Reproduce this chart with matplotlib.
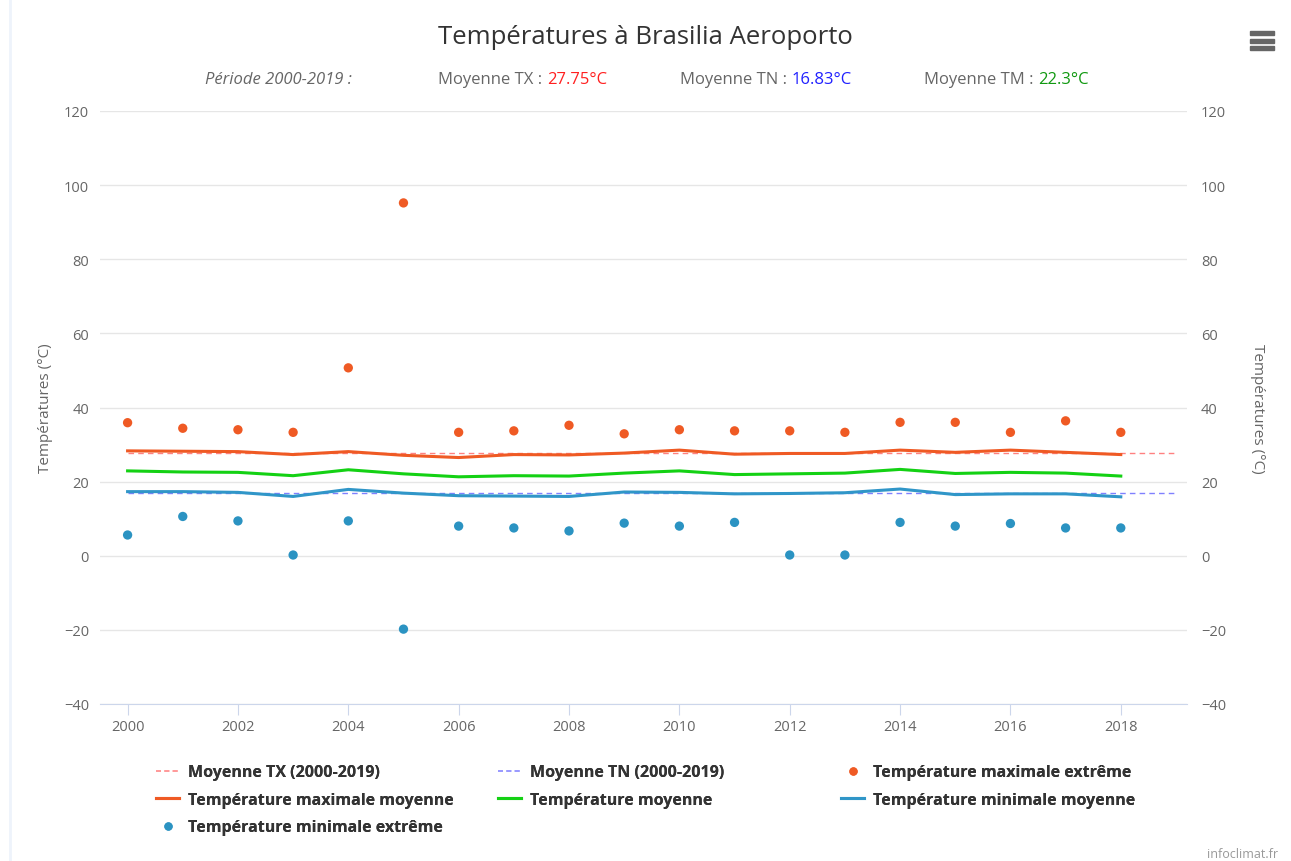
import matplotlib.pyplot as plt
from matplotlib.lines import Line2D
from matplotlib.patches import Rectangle

plt.rcParams['font.family'] = ['Open Sans', 'DejaVu Sans']

years = list(range(2000, 2019))
tx_extreme = [35.9, 34.4, 34.0, 33.3, 50.7, 95.2, 33.3, 33.7, 35.2, 32.9,
              34.0, 33.7, 33.7, 33.3, 36.0, 36.0, 33.3, 36.4, 33.3]
tn_extreme = [5.6, 10.6, 9.4, 0.2, 9.4, -19.8, 8.0, 7.5, 6.7, 8.8,
              8.0, 9.0, 0.2, 0.2, 9.0, 8.0, 8.7, 7.5, 7.5]
tx_mean = [28.3, 28.2, 28.1, 27.3, 28.1, 27.1, 26.5, 27.3, 27.2, 27.7,
           28.5, 27.4, 27.6, 27.6, 28.5, 27.9, 28.5, 27.9, 27.3]
tm_mean = [22.9, 22.6, 22.5, 21.6, 23.2, 22.1, 21.3, 21.6, 21.5, 22.3,
           22.9, 21.9, 22.1, 22.3, 23.3, 22.2, 22.5, 22.3, 21.5]
tn_mean = [17.3, 17.3, 17.1, 16.0, 17.9, 16.9, 16.2, 16.1, 16.0, 17.2,
           17.1, 16.7, 16.8, 17.0, 18.0, 16.5, 16.7, 16.7, 15.9]
period = [2000, 2019]
moy_tx = 27.75
moy_tn = 16.83
moy_tm = 22.3

orange = '#ef5a24'
green = '#14d114'
blue_line = '#3096c8'
blue_dot = '#2b93c2'
grey = '#666666'

fig = plt.figure(figsize=(12.91, 8.62), dpi=100)
ax = fig.add_axes([100 / 1291, 1 - 705 / 862, 1087 / 1291, 593 / 862])

# mean lines over the whole period
ax.plot(period, [moy_tx, moy_tx], color='#ff8080', lw=1, ls=(0, (4, 3)), zorder=2)
ax.plot(period, [moy_tn, moy_tn], color='#8080ff', lw=1, ls=(0, (4, 3)), zorder=2)
ax.plot(years, tx_mean, color=orange, lw=2.2, zorder=3)
ax.plot(years, tm_mean, color=green, lw=2.2, zorder=3)
ax.plot(years, tn_mean, color=blue_line, lw=2.2, zorder=3)
ax.scatter(years, tx_extreme, color=orange, s=45, zorder=4, edgecolors='none')
ax.scatter(years, tn_extreme, color=blue_dot, s=45, zorder=4, edgecolors='none')

ax.set_xlim(1999.5, 2019.2)
ax.set_ylim(-40, 120)
ax.set_yticks(range(-40, 121, 20))
ax.set_xticks(range(2000, 2019, 2))
ax.grid(axis='y', color='#e6e6e6', lw=1)
ax.set_axisbelow(True)
for s in ['top', 'right', 'left']:
    ax.spines[s].set_visible(False)
ax.spines['bottom'].set_color('#ccd6eb')
ax.tick_params(axis='y', length=0, labelsize=10.5, labelcolor=grey, pad=8)
ax.tick_params(axis='x', length=8, color='#ccd6eb', labelsize=10.5, labelcolor=grey, pad=3)
ax.set_ylabel('Températures (°C)', fontsize=11, color=grey, labelpad=8)

ax2 = ax.twinx()
ax2.set_ylim(-40, 120)
ax2.set_yticks(range(-40, 121, 20))
for s in ['top', 'right', 'left', 'bottom']:
    ax2.spines[s].set_visible(False)
ax2.tick_params(axis='y', length=0, labelsize=10.5, labelcolor=grey, pad=10)
ax2.set_ylabel('Températures (°C)', fontsize=11, color=grey, rotation=270, labelpad=28)

# title and subtitle
fig.text(0.5, 1 - 37 / 862, 'Températures à Brasilia Aeroporto', ha='center', va='center',
         fontsize=18.5, color='#333333')
sub_y = 1 - 80 / 862
fig.text(205 / 1291, sub_y, 'Période 2000-2019 :', ha='left', va='center', fontsize=12,
         color=grey, style='italic')
subtitle = [(438, 'Moyenne TX :', '%.2f°C' % moy_tx, '#ff2020'),
            (680, 'Moyenne TN :', '%.2f°C' % moy_tn, '#2020ff'),
            (924, 'Moyenne TM :', '%.1f°C' % moy_tm, '#119911')]
lab_texts = []
for x_lab, lab, val, col in subtitle:
    lab_texts.append(fig.text(x_lab / 1291, sub_y, lab, ha='left', va='center', fontsize=12, color=grey))

# value placed right after its label
fig.canvas.draw()
r = fig.canvas.get_renderer()
for t, (x_lab, lab, val, col) in zip(lab_texts, subtitle):
    bb = t.get_window_extent(r)
    fig.text((bb.x1 + 5) / fig.bbox.width, sub_y, val, ha='left', va='center', fontsize=12, color=col)

# legend, one block per column as in the reference
h_txm = Line2D([], [], color='#ff9999', lw=1.2, ls=(0, (3, 2)))
h_tnm = Line2D([], [], color='#9999ff', lw=1.2, ls=(0, (3, 2)))
h_txe = Line2D([], [], color=orange, marker='o', ls='none', ms=5)
h_tx = Line2D([], [], color=orange, lw=2.2)
h_tm = Line2D([], [], color=green, lw=2.2)
h_tn = Line2D([], [], color=blue_line, lw=2.2)
h_tne = Line2D([], [], color=blue_dot, marker='o', ls='none', ms=5)
columns = [
    (150, [h_txm, h_tx, h_tne], ['Moyenne TX (2000-2019)', 'Température maximale moyenne',
                                 'Température minimale extrême']),
    (492, [h_tnm, h_tm], ['Moyenne TN (2000-2019)', 'Température moyenne']),
    (835, [h_txe, h_tn], ['Température maximale extrême', 'Température minimale moyenne']),
]
for x0, hs, ls_ in columns:
    leg = fig.legend(hs, ls_, loc='upper left', bbox_to_anchor=(x0 / 1291, 1 - 759 / 862),
                     frameon=False, prop={'size': 11.5, 'weight': 'bold'}, handlelength=1.4,
                     labelspacing=0.72, handletextpad=0.55, borderaxespad=0)
    for t in leg.get_texts():
        t.set_color('#333333')
    fig.add_artist(leg)

# hamburger menu icon
for yy in [34, 41.5, 49]:
    fig.patches.append(Rectangle((1250 / 1291, 1 - (yy + 2) / 862), 24 / 1291, 4 / 862,
                                 transform=fig.transFigure, color='#666666'))
# left border
fig.add_artist(Line2D([10 / 1291, 10 / 1291], [0, 1], transform=fig.transFigure,
                      color='#eef3fb', lw=2))

fig.text(1278 / 1291, 1 - 855 / 862, 'infoclimat.fr', ha='right', va='center', fontsize=9, color='#999999')

fig.savefig('out.png', dpi=100)
